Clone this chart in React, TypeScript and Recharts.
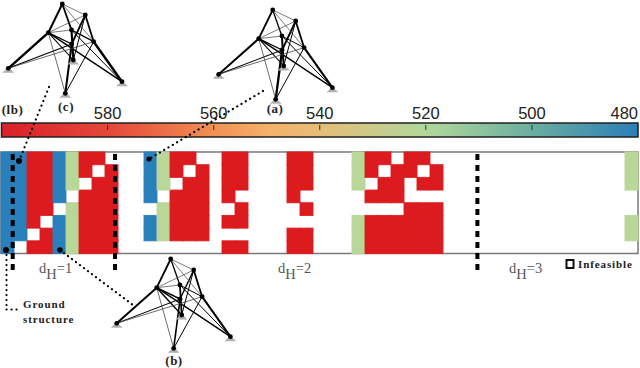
import React from 'react';
import { BarChart, Bar, XAxis, YAxis, ReferenceArea, ReferenceLine, ScatterChart, Scatter } from 'recharts';

const WIDTH = 640;
const HEIGHT = 368;

// one string per design column, top row first. R/G/B = cost band, . = infeasible
const designColumns = [
  'BBBBBBBB', 'BBBBBBB.', 'RRRRRR.R', 'RRRRR.RR', 'BBBB.BBB', 'GGG.GGGG', 'RR.RRRRR', 'R.RRRRRR', '.RRRRRRR',
  '........', '........',
  'BBBB.BB.', 'GGG.GGG.', 'RR.RRRR.', 'R.RRRRR.', '.RRRRRR.',
  '........',
  'RRRR.R.R', 'RRR.RR.R',
  '........', '........', '........',
  'RRRR..RR', 'RRR.R.RR',
  '........', '........', '........',
  'GGG..GGG', 'RR.R.RRR', 'R.RR.RRR', '.RRR.RRR', 'RR..RRRR', 'R.R.RRRR', '.RR.RRRR',
  '........', '........', '........', '........', '........', '........', '........',
  '........', '........', '........', '........', '........', '........', '........',
  'GGG..GG.',
];
const bandColors: Record<string, string> = { R: '#dc1b1f', G: '#b9d798', B: '#2a80ba' };
const rowNames = ['r7', 'r6', 'r5', 'r4', 'r3', 'r2', 'r1', 'r0'];

const weightTicks = [580, 560, 540, 520, 500, 480];
const colorStops = [
  { at: '0%', color: '#da2029' },
  { at: '17%', color: '#e4483a' },
  { at: '33%', color: '#f28f52' },
  { at: '42%', color: '#f4b169' },
  { at: '50%', color: '#e6bd78' },
  { at: '67%', color: '#b0d89c' },
  { at: '83%', color: '#6cae9f' },
  { at: '100%', color: '#2a7fb8' },
];

const heatRows = designColumns.map((cells, i) => {
  const row: Record<string, any> = { column: i };
  rowNames.forEach((name, k) => {
    row[name] = 1;
    row[name + '_band'] = cells[7 - k];
  });
  return row;
});

// truss nodes, same geometry for all three designs
const trussNodes: Record<string, { x: number; y: number; support?: boolean }> = {
  A: { x: 62.3, y: 4 },
  B: { x: 85.3, y: 15 },
  C: { x: 48.3, y: 32.7 },
  D: { x: 71.5, y: 30 },
  E: { x: 93.7, y: 41.7 },
  F: { x: 71.7, y: 44 },
  G: { x: 8.3, y: 68.3, support: true },
  H: { x: 73.3, y: 60, support: true },
  I: { x: 122, y: 81.7, support: true },
  J: { x: 65.3, y: 93.3, support: true },
};

type Member = [string, string, number];

const trussC: Member[] = [
  ['A', 'C', 2], ['A', 'D', 1.8], ['D', 'H', 2.1], ['B', 'E', 1.8], ['B', 'F', 1.8], ['C', 'G', 2.4], ['F', 'G', 1.2],
  ['C', 'I', 1.4], ['D', 'I', 1], ['E', 'I', 2.4], ['F', 'J', 2], ['E', 'J', 1], ['C', 'F', 1.3], ['D', 'E', 1.4],
  ['C', 'H', 1.1], ['C', 'J', 0.8], ['A', 'B', 0.7], ['A', 'E', 0.7], ['C', 'B', 0.7], ['E', 'G', 0.8], ['C', 'D', 0.7],
  ['B', 'H', 1],
];
const trussA: Member[] = [
  ['A', 'C', 1.8], ['A', 'D', 1.3], ['D', 'H', 2], ['B', 'E', 1.8], ['B', 'F', 1.8], ['C', 'G', 2], ['F', 'G', 1.1],
  ['C', 'I', 1.4], ['D', 'I', 1], ['E', 'I', 2.1], ['F', 'J', 2.3], ['E', 'J', 1], ['C', 'F', 1.3], ['D', 'E', 1],
  ['C', 'H', 1.1], ['C', 'J', 0.8], ['A', 'B', 0.7], ['A', 'E', 0.7], ['C', 'B', 0.7], ['E', 'G', 0.8], ['C', 'D', 0.7],
  ['B', 'H', 1],
];
const trussB: Member[] = [
  ['A', 'C', 1.8], ['A', 'D', 1.3], ['D', 'H', 1.8], ['B', 'E', 1.8], ['B', 'F', 1.4], ['C', 'G', 2], ['F', 'G', 1],
  ['C', 'I', 1.4], ['D', 'I', 1], ['E', 'I', 2], ['F', 'J', 1.6], ['E', 'J', 1], ['C', 'F', 1.4], ['D', 'E', 1],
  ['C', 'H', 1.4], ['C', 'J', 0.8], ['A', 'B', 0.7], ['A', 'E', 0.7], ['C', 'B', 0.7], ['E', 'G', 0.8], ['C', 'D', 0.7],
  ['B', 'H', 1],
];
const trusses = [
  { name: 'c', dx: 0, dy: 0, members: trussC },
  { name: 'a', dx: 210.4, dy: 6, members: trussA },
  { name: 'b', dx: 108.4, dy: 255, members: trussB },
];

// dotted leaders from the designs to their cells
const leaders = [
  [[49, 87], [19, 161]],
  [[263, 91], [149, 159]],
  [[60, 250], [133, 305]],
  [[6.5, 250], [6.5, 309]],
  [[6.5, 309.5], [21, 309.5]],
];
const leaderDots = [
  { x: 19, y: 161, r: 3 },
  { x: 149, y: 159, r: 2.6 },
  { x: 60, y: 250, r: 2.8 },
  { x: 6, y: 250, r: 3 },
];

const hammingBreaks = [
  { x: 12.7, top: 154, bottom: 273 },
  { x: 115, top: 154, bottom: 273 },
  { x: 477.4, top: 154, bottom: 273 },
];

const caseLabels = [
  { x: 12.5, y: 114, text: '(lb)' },
  { x: 66, y: 111, text: '(c)' },
  { x: 275, y: 113, text: '(a)' },
  { x: 174, y: 365, text: '(b)' },
];
const hammingLabels = [
  { x: 39, y: 273, d: '1' },
  { x: 278, y: 273, d: '2' },
  { x: 509, y: 273, d: '3' },
];
const noteLabels = [
  { x: 23, y: 308, text: 'Ground' },
  { x: 23, y: 323, text: 'structure' },
  { x: 578, y: 268, text: 'Infeasible' },
];
const legendKey = [{ x: 570, y: 264 }];

const serif = '"Liberation Serif", serif';

const GridCell = (props: any) => {
  const { x, y, width, height, payload, dataKey } = props;
  const color = bandColors[payload[dataKey + '_band']];
  if (!color) return null;
  return <rect x={x} y={y} width={width} height={height} fill={color} stroke={color} strokeWidth={1} strokeOpacity={0.9} />;
};

const WeightTick = (props: any) => {
  const { x, y, payload } = props;
  const last = payload.value === 480;
  return (
    <g>
      <line x1={x} x2={x} y1={y + 2} y2={y + 7} stroke="#333" strokeWidth={1} />
      <text
        x={x}
        y={y - 4}
        textAnchor={last ? 'end' : 'middle'}
        fontFamily='"Liberation Sans", sans-serif'
        fontSize={16.5}
        fill="#222"
      >
        {payload.value}
      </text>
    </g>
  );
};

const NodeShape = (props: any) => {
  const { cx, cy, payload } = props;
  return (
    <g>
      {payload.support && (
        <polygon points={`${cx - 6},${cy + 4.5} ${cx + 6},${cy + 4.5} ${cx},${cy - 1}`} fill="#b0b0b0" />
      )}
      <circle cx={cx} cy={cy} r={2.4} fill="#000" />
    </g>
  );
};

const CaseLabel = (props: any) => (
  <text x={props.cx} y={props.cy} textAnchor="middle" fontFamily={serif} fontWeight="bold" fontSize={13} letterSpacing={0.5} fill="#222">
    {props.payload.text}
  </text>
);

const NoteLabel = (props: any) => (
  <text x={props.cx} y={props.cy} fontFamily={serif} fontWeight="bold" fontSize={11} letterSpacing={0.9} fill="#222">
    {props.payload.text}
  </text>
);

const HammingLabel = (props: any) => (
  <text x={props.cx} y={props.cy} fontFamily={serif} fontSize={14.5} fill="#555">
    d<tspan dy={6}>H</tspan>
    <tspan dy={-6}>={props.payload.d}</tspan>
  </text>
);

const KeyShape = (props: any) => (
  <rect x={props.cx - 3.5} y={props.cy - 4} width={7} height={8} fill="#fff" stroke="#111" strokeWidth={2} />
);

const DotShape = (props: any) => <circle cx={props.cx} cy={props.cy} r={props.payload.r} fill="#000" />;

const layer: React.CSSProperties = { position: 'absolute', left: 0, top: 0 };

export default function App() {
  return (
    <div style={{ position: 'absolute', left: 0, top: 0, width: WIDTH, height: HEIGHT, background: '#fff', overflow: 'hidden' }}>
      {/* design grid */}
      <div style={layer}>
        <BarChart
          width={WIDTH}
          height={HEIGHT}
          data={heatRows}
          margin={{ top: 152, right: 2, bottom: 114.5, left: 1 }}
          barCategoryGap={0}
        >
          <XAxis dataKey="column" hide />
          <YAxis type="number" domain={[0, 8]} hide />
          {rowNames.map((name) => (
            <Bar key={name} dataKey={name} stackId="grid" shape={<GridCell dataKey={name} />} isAnimationActive={false} />
          ))}
          <ReferenceArea y1={0} y2={8} fill="none" stroke="#7a7a7a" strokeWidth={1.5} />
        </BarChart>
      </div>

      {/* colour scale */}
      <div style={layer}>
        <ScatterChart width={WIDTH} height={HEIGHT} margin={{ top: 122, right: 2, bottom: 231, left: 1.5 }}>
          <defs>
            <linearGradient id="weightScale" x1="0" x2="1" y1="0" y2="0">
              {colorStops.map((s) => (
                <stop key={s.at} offset={s.at} stopColor={s.color} />
              ))}
            </linearGradient>
          </defs>
          <XAxis
            type="number"
            dataKey="weight"
            xAxisId="scale"
            orientation="top"
            domain={[480, 600]}
            reversed
            allowDataOverflow
            ticks={weightTicks}
            axisLine={false}
            tickLine={false}
            tickSize={0}
            tickMargin={0}
            height={1}
            interval={0}
            tick={<WeightTick />}
          />
          <YAxis type="number" dataKey="v" yAxisId="scale" domain={[0, 1]} hide />
          <Scatter
            xAxisId="scale"
            yAxisId="scale"
            data={weightTicks.map((weight) => ({ weight, v: 0 }))}
            shape={() => <g />}
            isAnimationActive={false}
          />
          <ReferenceArea
            xAxisId="scale"
            yAxisId="scale"
            x1={600}
            x2={480}
            y1={0}
            y2={1}
            fill="url(#weightScale)"
            fillOpacity={1}
            stroke="#222"
            strokeWidth={1.5}
            ifOverflow="extendDomain"
          />
        </ScatterChart>
      </div>

      {/* trusses, leaders and annotations */}
      <div style={layer}>
        <ScatterChart width={WIDTH} height={HEIGHT} margin={{ top: 0, right: 0, bottom: 0, left: 0 }}>
          <XAxis type="number" dataKey="x" domain={[0, WIDTH]} hide />
          <YAxis type="number" dataKey="y" domain={[0, HEIGHT]} reversed hide />
          {hammingBreaks.map((b) => (
            <ReferenceLine
              key={b.x}
              segment={[{ x: b.x, y: b.top }, { x: b.x, y: b.bottom }]}
              stroke="#000"
              strokeWidth={4}
              strokeDasharray="6 5"
            />
          ))}
          {trusses.map((t) =>
            t.members.map(([from, to, w]) => (
              <ReferenceLine
                key={t.name + from + to}
                segment={[
                  { x: trussNodes[from].x + t.dx, y: trussNodes[from].y + t.dy },
                  { x: trussNodes[to].x + t.dx, y: trussNodes[to].y + t.dy },
                ]}
                stroke={w < 0.9 ? '#444' : '#000'}
                strokeWidth={w}
              />
            ))
          )}
          {trusses.map((t) => (
            <Scatter
              key={t.name}
              data={Object.values(trussNodes).map((n) => ({ ...n, x: n.x + t.dx, y: n.y + t.dy }))}
              shape={<NodeShape />}
              isAnimationActive={false}
            />
          ))}
          {leaders.map(([from, to], i) => (
            <ReferenceLine
              key={i}
              segment={[{ x: from[0], y: from[1] }, { x: to[0], y: to[1] }]}
              stroke="#000"
              strokeWidth={2.2}
              strokeDasharray="0.1 4.9"
              strokeLinecap="round"
            />
          ))}
          <Scatter data={leaderDots} shape={<DotShape />} isAnimationActive={false} />
          <Scatter data={caseLabels} shape={<CaseLabel />} isAnimationActive={false} />
          <Scatter data={noteLabels} shape={<NoteLabel />} isAnimationActive={false} />
          <Scatter data={hammingLabels} shape={<HammingLabel />} isAnimationActive={false} />
          <Scatter data={legendKey} shape={<KeyShape />} isAnimationActive={false} />
        </ScatterChart>
      </div>
    </div>
  );
}
